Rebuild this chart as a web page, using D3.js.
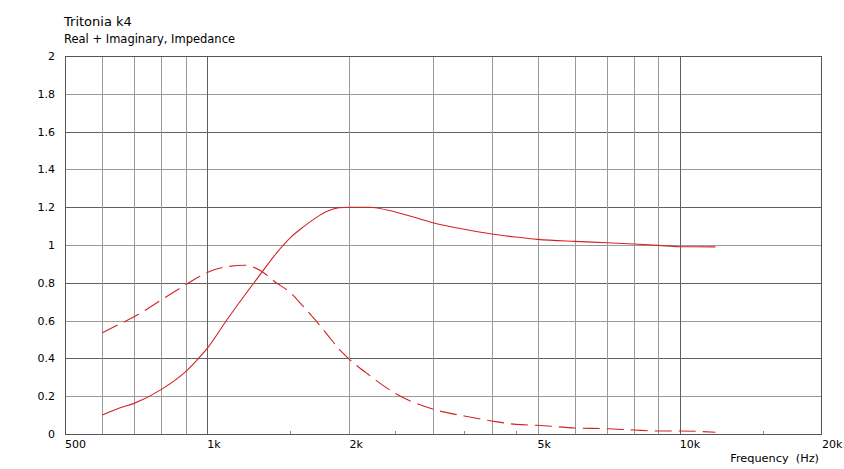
<!DOCTYPE html>
<html>
<head>
<meta charset="utf-8">
<script src="https://cdn.jsdelivr.net/npm/d3@7"></script>
<style>
  html, body { margin: 0; padding: 0; background: #fff; }
  svg { display: block; }
  text { font-family: "DejaVu Sans", Verdana, sans-serif; fill: #000; }
</style>
</head>
<body>
<script>
// ---- data ----
const freqs     = [600, 650, 700, 800, 900, 950, 1000, 1100, 1200, 1300, 1400, 1500, 1600, 1700, 1800, 1900, 2000, 2200, 2500, 3000, 3500, 4000, 4500, 5000, 6000, 7000, 8000, 9000, 10000, 11900];
const realPart  = [0.10, 0.136, 0.162, 0.236, 0.33, 0.39, 0.453, 0.603, 0.734, 0.85, 0.956, 1.039, 1.097, 1.145, 1.18, 1.197, 1.20, 1.20, 1.175, 1.118, 1.083, 1.058, 1.042, 1.030, 1.019, 1.012, 1.005, 0.998, 0.991, 0.99];
const imagPart  = [0.536, 0.58, 0.62, 0.71, 0.79, 0.825, 0.855, 0.885, 0.893, 0.862, 0.80, 0.748, 0.672, 0.598, 0.522, 0.45, 0.395, 0.312, 0.215, 0.132, 0.095, 0.069, 0.051, 0.046, 0.032, 0.028, 0.021, 0.016, 0.016, 0.009];
const vGridMajor = [1000, 10000];
const vGridMinor = [600, 700, 800, 900, 2000, 3000, 4000, 5000, 6000, 7000, 8000, 9000];
const xMinorTicks = [1500, 2500, 3500, 4500, 15000];
const xTickLabels = [[500, "500"], [1000, "1k"], [2000, "2k"], [5000, "5k"], [10000, "10k"], [20000, "20k"]];
const yTicks = [0, 0.2, 0.4, 0.6, 0.8, 1, 1.2, 1.4, 1.6, 1.8, 2];
const yTickLabels = ["0", "0.2", "0.4", "0.6", "0.8", "1", "1.2", "1.4", "1.6", "1.8", "2"];

const W = 844, H = 469;
const L = 65, R = 822, T = 56, B = 434;

const svg = d3.select("body").append("svg").attr("width", W).attr("height", H);

const x = d3.scaleLog().domain([500, 20000]).range([L, R]);
const y = d3.scaleLinear().domain([0, 2]).range([B, T]);
const px = v => Math.round(v) + 0.5;

// horizontal gridlines
yTicks.forEach((t, i) => {
  if (t === 0 || t === 2) return;
  const dark = Math.round(t * 10) % 4 === 0;
  svg.append("line")
    .attr("x1", L).attr("x2", R)
    .attr("y1", px(y(t))).attr("y2", px(y(t)))
    .attr("stroke", dark ? "#606060" : "#9a9a9a").attr("stroke-width", 1);
});
// vertical gridlines
vGridMinor.forEach(f => {
  svg.append("line")
    .attr("x1", px(x(f))).attr("x2", px(x(f)))
    .attr("y1", T).attr("y2", B)
    .attr("stroke", "#9a9a9a").attr("stroke-width", 1);
});
vGridMajor.forEach(f => {
  svg.append("line")
    .attr("x1", px(x(f))).attr("x2", px(x(f)))
    .attr("y1", T).attr("y2", B)
    .attr("stroke", "#606060").attr("stroke-width", 1);
});
// minor ticks at bottom
xMinorTicks.forEach(f => {
  svg.append("line")
    .attr("x1", px(x(f))).attr("x2", px(x(f)))
    .attr("y1", B - 3).attr("y2", B)
    .attr("stroke", "#8a8a8a").attr("stroke-width", 1);
});
// border
svg.append("rect")
  .attr("x", L + 0.5).attr("y", T + 0.5)
  .attr("width", R - L - 1).attr("height", B - T)
  .attr("fill", "none").attr("stroke", "#555").attr("stroke-width", 1);

// y labels
yTicks.forEach((t, i) => {
  svg.append("text")
    .attr("x", 55).attr("y", y(t) + 4)
    .attr("text-anchor", "end")
    .style("font-size", "11px")
    .text(yTickLabels[i]);
});
// x labels
xTickLabels.forEach(([f, lab]) => {
  svg.append("text")
    .attr("x", x(f)).attr("y", 448)
    .attr("text-anchor", "start")
    .style("font-size", "11px")
    .text(lab);
});

// axis title
svg.append("text")
  .attr("x", 819).attr("y", 462)
  .attr("text-anchor", "end")
  .style("font-size", "11.3px")
  .attr("xml:space", "preserve")
  .text("Frequency  (Hz)");

// titles
svg.append("text").attr("x", 64).attr("y", 26).style("font-size", "13px").text("Tritonia k4");
svg.append("text").attr("x", 64).attr("y", 43).style("font-size", "11.5px").text("Real + Imaginary, Impedance");

// curves
const line = d3.line().x(d => x(d[0])).y(d => y(d[1])).curve(d3.curveMonotoneX);
svg.append("path")
  .datum(freqs.map((f, i) => [f, realPart[i]]))
  .attr("d", line)
  .attr("fill", "none").attr("stroke", "#d42222").attr("stroke-width", 1.1);
svg.append("path")
  .datum(freqs.map((f, i) => [f, imagPart[i]]))
  .attr("d", line)
  .attr("fill", "none").attr("stroke", "#d42222").attr("stroke-width", 1.1)
  .attr("stroke-dasharray", "17,7");
</script>
</body>
</html>
